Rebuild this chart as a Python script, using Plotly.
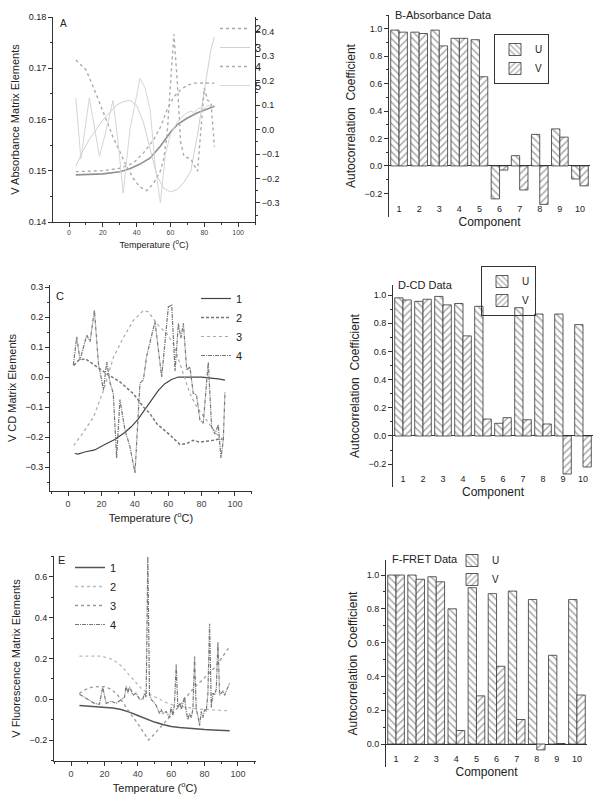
import plotly.graph_objects as go

# ---------------- Panel A : V Absorbance matrix elements ----------------
a1_x = [4, 20, 30, 36, 42, 48, 54, 60, 64, 70, 76, 82, 86]
a1_y = [0.1492, 0.1494, 0.1498, 0.1504, 0.1513, 0.1525, 0.1548, 0.1575, 0.1590, 0.1603, 0.1613, 0.1621, 0.1626]

a2_x = [4, 20, 30, 38, 44, 50, 54, 58, 62, 66, 70, 74, 80, 86]
a2_y = [-0.172, -0.168, -0.158, -0.137, -0.095, -0.042, 0.01, 0.081, 0.135, 0.163, 0.182, 0.19, 0.191, 0.19]

a3_x = [4, 8, 12, 16, 20, 24, 28, 32, 36, 40, 44, 48, 52, 56, 60, 64, 68, 72, 76, 80, 84, 86]
a3_y = [-0.15, -0.09, -0.04, 0.0, 0.04, 0.07, 0.1, 0.115, 0.12, 0.1, 0.03, -0.08, -0.19, -0.24, -0.255, -0.245, -0.215, -0.17, -0.02, 0.16, 0.33, 0.38]

a4_x = [4, 8, 10, 14, 18, 22, 26, 30, 34, 38, 42, 46, 50, 54, 56, 58, 60, 62, 64, 66, 68, 72, 76, 78, 80, 82, 84, 86]
a4_y = [0.285, 0.26, 0.245, 0.18, 0.11, 0.04, -0.03, -0.09, -0.15, -0.2, -0.235, -0.25, -0.22, -0.17, -0.12, -0.02, 0.2, 0.39, 0.2, -0.05, -0.11, -0.12, -0.17, 0.02, 0.17, 0.12, 0.11, -0.07]

a5_x = [4, 7, 12, 18, 22, 26, 29, 32, 36, 42, 45, 48, 51, 54, 57, 60, 64, 68, 70, 72, 74, 76, 78, 80, 82, 84, 86]
a5_y = [0.13, -0.12, 0.13, -0.11, 0.0, 0.12, -0.05, -0.26, 0.0, 0.21, 0.17, 0.08, -0.15, -0.3, -0.1, -0.02, 0.03, 0.06, 0.07, 0.075, 0.07, 0.085, 0.09, 0.085, 0.1, 0.095, 0.1]

# ---------------- Panel C : V CD matrix elements ----------------
c1_x = [4, 6, 10, 16, 22, 28, 34, 38, 42, 46, 50, 54, 58, 62, 66, 70, 76, 80, 86, 90, 94]
c1_y = [-0.255, -0.257, -0.25, -0.243, -0.225, -0.208, -0.185, -0.165, -0.14, -0.108, -0.075, -0.045, -0.022, -0.008, 0.0, 0.001, 0.0, 0.0, -0.003, -0.006, -0.01]

c2_x = [3.4, 6.4, 10.4, 17.3, 23.3, 31.3, 39.2, 45.2, 49, 53.2, 61.2, 67, 71, 75, 79, 87, 91, 94]
c2_y = [0.039, 0.056, 0.061, 0.033, 0.011, -0.017, -0.056, -0.1, -0.121, -0.156, -0.194, -0.225, -0.222, -0.211, -0.217, -0.211, -0.206, -0.21]

c3_x = [3.4, 9.4, 15.3, 21.3, 27.3, 33.3, 39.2, 45.2, 48.2, 53.2, 59.2, 63.1, 67.1, 73.1, 77.1, 83.1, 89, 93]
c3_y = [-0.228, -0.183, -0.133, -0.044, 0.067, 0.133, 0.189, 0.222, 0.217, 0.178, 0.144, 0.111, 0.044, -0.056, -0.1, -0.144, -0.189, -0.211]

c4_x = [3.2, 5.2, 7.2, 9.2, 11.2, 13.2, 15.8, 18.2, 21.2, 23.2, 25.2, 27.1, 29.1, 31.1, 34.1, 37, 40.1, 43.1, 45.1, 47.1,
        49.1, 52.1, 56.1, 58, 60.1, 62.1, 64.1, 66.1, 67.6, 69.1, 71.1, 73, 75, 77, 79, 81, 84, 86, 88, 90, 91.6, 93, 94]
c4_y = [0.04, 0.134, 0.057, 0.1, 0.14, 0.118, 0.223, 0.046, -0.043, 0.05, -0.02, -0.054, -0.27, -0.075, -0.177, -0.23, -0.32, -0.02, -0.01, 0.07,
        0.12, 0.185, 0.0, 0.12, 0.234, 0.24, 0.02, 0.179, 0.13, 0.179, 0.023, 0.034, -0.054, -0.06, -0.143, -0.154, 0.05, -0.166, -0.19, -0.16, -0.27, -0.21, -0.05]

# ---------------- Panel E : V Fluorescence matrix elements ----------------
e1_x = [5, 15, 25, 30, 35, 40, 45, 50, 55, 60, 65, 70, 75, 80, 85, 90, 95]
e1_y = [-0.031, -0.036, -0.043, -0.05, -0.063, -0.08, -0.097, -0.112, -0.124, -0.134, -0.139, -0.143, -0.146, -0.149, -0.151, -0.153, -0.155]

e2_x = [5, 12, 18, 25, 30, 34, 38, 42, 46, 50, 54, 58, 62, 66, 72, 78, 86, 95]
e2_y = [0.212, 0.213, 0.212, 0.195, 0.165, 0.127, 0.09, 0.054, 0.03, 0.013, -0.005, -0.02, -0.03, -0.036, -0.043, -0.049, -0.054, -0.057]

e3_x = [5, 8, 12, 16, 20, 24, 28, 32, 36, 40, 43, 46.5, 50, 54, 58, 62, 66, 70, 74, 78, 82, 86, 90, 95]
e3_y = [0.029, 0.045, 0.058, 0.062, 0.062, 0.05, 0.02, -0.03, -0.075, -0.12, -0.158, -0.2, -0.17, -0.135, -0.1, -0.06, -0.02, 0.02, 0.06, 0.09, 0.12, 0.155, 0.2, 0.258]

e4_x = [5, 8, 11, 14, 17, 19, 21, 24, 27, 30, 32, 33, 34, 35, 36, 37, 39, 41, 43, 44, 45, 46, 47, 48, 49, 51, 53, 54, 55, 57,
        59, 60, 61, 62, 63, 64, 65, 66, 67, 68, 69, 70, 71, 72, 73, 74, 75, 76, 77, 78, 79, 80, 81, 82, 83, 84, 85, 86, 87,
        88, 89, 90, 91, 92, 93, 94, 95]
e4_y = [0.025, 0.01, -0.005, -0.02, -0.025, 0.06, -0.02, -0.01, -0.02, 0.0, 0.01, 0.065, 0.03, 0.06, 0.045, 0.02, 0.03, 0.0, 0.0, 0.03, 0.01, 0.7, 0.02, 0.0, -0.01,
        -0.03, -0.07, -0.05, -0.07, -0.06, -0.09, -0.04, -0.08, -0.02, 0.17, -0.04, -0.02, -0.05, -0.02, 0.01, -0.06, -0.1, -0.07, -0.09, -0.05, 0.21, -0.05,
        -0.08, -0.13, -0.06, -0.09, -0.05, -0.06, 0.03, 0.37, -0.04, 0.03, 0.02, 0.05, 0.28, 0.02, 0.03, 0.04, 0.02, 0.04, 0.06, 0.08]

# ---------------- Bar panels : autocorrelation coefficients ----------------
components = [1, 2, 3, 4, 5, 6, 7, 8, 9, 10]
b_u = [0.99, 0.975, 0.99, 0.93, 0.92, -0.24, 0.075, 0.23, 0.27, -0.095]
b_v = [0.975, 0.965, 0.875, 0.93, 0.65, -0.03, -0.175, -0.28, 0.21, -0.145]
d_u = [0.98, 0.955, 0.99, 0.94, 0.92, 0.09, 0.91, 0.865, 0.865, 0.79]
d_v = [0.965, 0.97, 0.93, 0.71, 0.12, 0.13, 0.115, 0.085, -0.27, -0.22]
f_u = [1.0, 1.0, 0.99, 0.80, 0.925, 0.89, 0.905, 0.855, 0.525, 0.855]
f_v = [1.0, 0.975, 0.96, 0.08, 0.285, 0.46, 0.145, -0.035, 0.003, 0.29]

FONT = "Liberation Sans Narrow, Arial Narrow, Liberation Sans, Arial, sans-serif"
TXT = "#222"

fig = go.Figure()

def line(x, y, name, xa, ya, leg, color, dash, width):
    fig.add_trace(go.Scatter(x=x, y=y, name=name, xaxis=xa, yaxis=ya, legend=leg, mode="lines",
                             line=dict(color=color, dash=dash, width=width)))

# Panel A
line(a1_x, a1_y, "1", "x", "y", "legend", "#909090", "solid", 1.6)
line(a2_x, a2_y, "2", "x", "y2", "legend2", "#a8a8a8", "dot", 1.3)
line(a3_x, a3_y, "3", "x", "y2", "legend2", "#d0d0d0", "solid", 1.0)
line(a4_x, a4_y, "4", "x", "y2", "legend2", "#acacac", "dot", 1.4)
line(a5_x, a5_y, "5", "x", "y2", "legend2", "#d6d6d6", "solid", 1.0)

# Panel C
line(c1_x, c1_y, "1", "x3", "y4", "legend4", "#444", "solid", 1.2)
line(c2_x, c2_y, "2", "x3", "y4", "legend4", "#777", "3px,2px", 1.5)
line(c3_x, c3_y, "3", "x3", "y4", "legend4", "#aaa", "dot", 1.2)
line(c4_x, c4_y, "4", "x3", "y4", "legend4", "#777", "4px,1px,1px,1px", 1.2)

# Panel E
line(e1_x, e1_y, "1", "x5", "y6", "legend6", "#555", "solid", 1.5)
line(e2_x, e2_y, "2", "x5", "y6", "legend6", "#bbb", "dot", 1.3)
line(e3_x, e3_y, "3", "x5", "y6", "legend6", "#999", "dot", 1.3)
line(e4_x, e4_y, "4", "x5", "y6", "legend6", "#777", "4px,1px,1px,1px", 1.2)

def bars(u, v, xa, ya, leg):
    for name, vals, shape in (("U", u, "\\"), ("V", v, "/")):
        fig.add_trace(go.Bar(x=components, y=vals, name=name, xaxis=xa, yaxis=ya, legend=leg,
                             marker=dict(color="white", line=dict(color="#333", width=0.8),
                                         pattern=dict(shape=shape, fgcolor="#555", bgcolor="white",
                                                      size=5, solidity=0.3))))

bars(b_u, b_v, "x2", "y3", "legend3")
bars(d_u, d_v, "x4", "y5", "legend5")
bars(f_u, f_v, "x6", "y7", "legend7")

W, H = 600, 803
def dx(a, b):
    return [a / W, b / W]
def dy(top, bot):
    return [1 - bot / H, 1 - top / H]

def temp_x(domain, rng, anchor, fs=9, tfs=11):
    return dict(domain=domain, range=rng, anchor=anchor, showgrid=False, zeroline=False,
                showline=True, linecolor="#333", linewidth=1, ticks="outside", ticklen=4,
                tickcolor="#333", dtick=20, tick0=0, tickfont=dict(family=FONT, size=fs, color="#444"),
                minor=dict(ticks="outside", ticklen=2, dtick=10, tickcolor="#333"),
                title=dict(text="Temperature (<sup>o</sup>C)", font=dict(family=FONT, size=tfs, color=TXT), standoff=6),
                automargin=False)

def val_y(domain, rng, anchor, dtick, fmt, minor, title, fs=9, tfs=11):
    return dict(domain=domain, range=rng, anchor=anchor, showgrid=False, zeroline=False,
                showline=True, linecolor="#333", linewidth=1, ticks="outside", ticklen=4,
                tickcolor="#333", dtick=dtick, tick0=0, tickformat=fmt,
                tickfont=dict(family=FONT, size=fs, color=TXT),
                minor=dict(ticks="outside", ticklen=2, dtick=minor, tickcolor="#333"),
                title=dict(text=title, font=dict(family=FONT, size=tfs, color=TXT), standoff=6),
                automargin=False)

def comp_x(domain, anchor):
    return dict(domain=domain, range=[0.5, 10.5], anchor=anchor, showgrid=False, zeroline=False,
                showline=False, ticks="", dtick=1, tick0=1, ticklabelposition="inside",
                tickfont=dict(family=FONT, size=9, color=TXT),
                title=dict(text="Component", font=dict(family=FONT, size=12, color=TXT), standoff=4),
                automargin=False)

def corr_y(domain, rng, anchor):
    return dict(domain=domain, range=rng, anchor=anchor, showgrid=False, zeroline=True,
                zerolinecolor="#333", zerolinewidth=1,
                showline=True, linecolor="#333", linewidth=1, ticks="outside", ticklen=4,
                tickcolor="#333", dtick=0.2, tick0=0, tickformat=".1f",
                tickfont=dict(family=FONT, size=9, color=TXT),
                minor=dict(ticks="outside", ticklen=2, dtick=0.1, tickcolor="#333"),
                title=dict(text="Autocorrelation  Coefficient", font=dict(family=FONT, size=12, color=TXT), standoff=6),
                automargin=False)

A_x, A_y = dx(53, 255), dy(17, 222)
B_x, B_y = dx(389, 590), dy(15, 217)
C_x, C_y = dx(50, 252), dy(285, 491)
D_x, D_y = dx(393, 593), dy(285, 487)
E_x, E_y = dx(54, 256), dy(556, 761)
F_x, F_y = dx(386, 587), dy(560, 767)

layout = dict(
    width=W, height=H, margin=dict(l=0, r=0, t=0, b=0),
    paper_bgcolor="white", plot_bgcolor="white",
    font=dict(family=FONT, color=TXT),
    barmode="group", bargap=0.17, bargroupgap=0,
    xaxis=temp_x(A_x, [-9.5, 110], "y", fs=7, tfs=9),
    yaxis=val_y(A_y, [0.14, 0.18], "x", 0.01, ".2f", 0.005, "V Absorbance Matrix Elements", fs=9, tfs=11),
    yaxis2=dict(overlaying="y", side="right", anchor="x", range=[-0.378, 0.461], showgrid=False,
                zeroline=False, showline=True, linecolor="#333", linewidth=1, ticks="outside",
                ticklen=4, tickcolor="#333", dtick=0.1, tick0=0, tickformat=".1f",
                tickfont=dict(family=FONT, size=9, color=TXT),
                minor=dict(ticks="outside", ticklen=2, dtick=0.05, tickcolor="#333"), automargin=False),
    xaxis2=comp_x(B_x, "y3"),
    yaxis3=corr_y(B_y, [-0.372, 1.10], "x2"),
    xaxis3=temp_x(C_x, [-10.8, 110.2], "y4"),
    yaxis4=val_y(C_y, [-0.38, 0.307], "x3", 0.1, ".1f", 0.05, "V CD Matrix Elements"),
    xaxis4=comp_x(D_x, "y5"),
    yaxis5=corr_y(D_y, [-0.362, 1.071], "x4"),
    xaxis5=temp_x(E_x, [-10.2, 110.8], "y6"),
    yaxis6=val_y(E_y, [-0.303, 0.703], "x5", 0.2, ".1f", 0.1, "V Fluorescence Matrix Elements"),
    xaxis6=comp_x(F_x, "y7"),
    yaxis7=corr_y(F_y, [-0.136, 1.089], "x6"),
)

def leg(x, y, border=False, size=11):
    return dict(x=x / W, y=1 - y / H, xanchor="left", yanchor="top", bgcolor="rgba(255,255,255,0)",
                font=dict(family=FONT, size=size, color=TXT), itemwidth=30, tracegroupgap=0,
                traceorder="normal", borderwidth=1 if border else 0, bordercolor="#333")

layout["legend"] = leg(52, 26)
layout["legend2"] = leg(215, 14)
layout["legend3"] = leg(494, 34, border=True, size=10)
layout["legend4"] = leg(196, 284)
layout["legend5"] = leg(481, 266, border=True, size=10)
layout["legend6"] = leg(70, 553)
layout["legend7"] = leg(452, 546, size=10)

def ann(text, x, y, size=11):
    return dict(text=text, x=x / W, y=1 - y / H, xref="paper", yref="paper", showarrow=False,
                xanchor="left", yanchor="middle", font=dict(family=FONT, size=size, color=TXT))

layout["annotations"] = [
    ann("A", 58, 23, 10),
    ann("B-Absorbance Data", 393, 15, 11),
    ann("C", 54, 296, 11),
    ann("D-CD Data", 396, 285, 11),
    ann("E", 56, 560, 11),
    ann("F-FRET Data", 390, 559, 11),
]

fig.update_layout(**layout)
fig.write_html("out.html", config={"displayModeBar": False},
               post_script="document.body.style.margin='0';")
